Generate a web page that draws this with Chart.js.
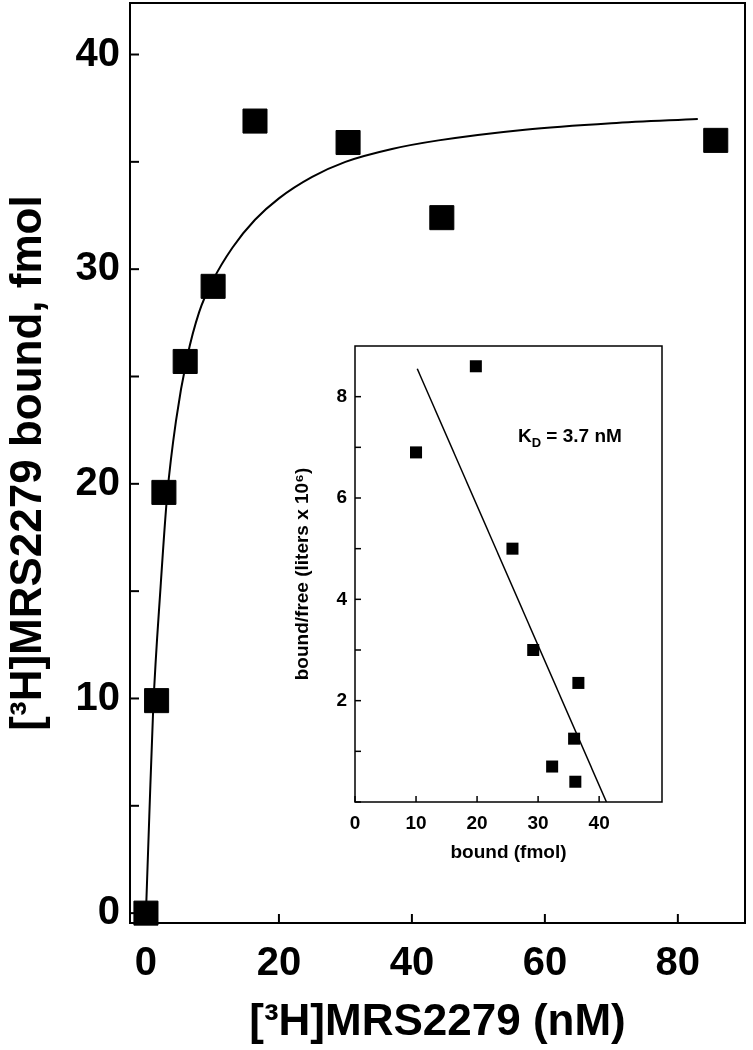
<!DOCTYPE html>
<html>
<head>
<meta charset="utf-8">
<script src="https://cdn.jsdelivr.net/npm/chart.js@4/dist/chart.umd.min.js"></script>
<style>
  html, body { margin: 0; padding: 0; background: #fff; }
  #wrap { position: relative; width: 753px; height: 1050px; }
  #wrap canvas { position: absolute; left: 0; top: 0; }
</style>
</head>
<body>
<div id="wrap">
  <canvas id="mainChart" width="753" height="1050"></canvas>
  <canvas id="insetChart" width="753" height="1050"></canvas>
</div>
<script>
// saturation data (main plot)
var satConc  = [0, 1.6, 2.7, 5.9, 10.1, 16.4, 30.4, 44.5, 85.7];
var satBound = [0, 9.9, 19.6, 25.7, 29.2, 36.9, 35.9, 32.4, 36.0];

// fitted curve
var fitConc  = [0, 0.5, 1.1, 2.2, 3.2, 4.5, 6.2, 8.0, 10.1, 13.0, 16.4, 20.0, 25.0, 30.0, 37.0, 44.0, 57.0, 70.0, 83.0];
var fitBound = [0, 4.5, 9.6, 15.2, 19.5, 22.9, 25.9, 28.0, 29.5, 31.0, 32.3, 33.3, 34.3, 35.0, 35.6, 36.0, 36.5, 36.8, 37.0];

// scatchard inset
var scatBound = [10.0, 19.8, 25.8, 29.2, 36.6, 35.9, 32.3, 36.1];
var scatRatio = [6.9, 8.6, 5.0, 3.0, 2.35, 1.25, 0.7, 0.4];
var scatFitBound = [10.2, 41.2];
var scatFitRatio = [8.55, 0];

var mainXTicks = [0, 20, 40, 60, 80];
var mainYTicks = [0, 5, 10, 15, 20, 25, 30, 35, 40];
var insetXTicks = [0, 10, 20, 30, 40];
var insetYTicks = [0, 1, 2, 3, 4, 5, 6, 7, 8];

var FONT = "'Liberation Sans', Arial, sans-serif";

function pts(xs, ys) {
    return xs.map(function (x, i) { return { x: x, y: ys[i] }; });
}

// box around the plot area + ticks pointing inward
var frameTicks = {
    id: 'frameTicks',
    beforeDatasetsDraw: function (chart, args, opts) {
        var ctx = chart.ctx, a = chart.chartArea, sx = chart.scales.x, sy = chart.scales.y;
        ctx.save();
        ctx.strokeStyle = '#000';
        ctx.lineWidth = opts.width;
        ctx.strokeRect(a.left, a.top, a.right - a.left, a.bottom - a.top);
        sx.ticks.forEach(function (t) {
            var px = sx.getPixelForValue(t.value);
            ctx.beginPath();
            ctx.moveTo(px, a.bottom);
            ctx.lineTo(px, a.bottom - opts.len);
            ctx.stroke();
        });
        sy.ticks.forEach(function (t) {
            var py = sy.getPixelForValue(t.value);
            ctx.beginPath();
            ctx.moveTo(a.left, py);
            ctx.lineTo(a.left + opts.len, py);
            ctx.stroke();
        });
        ctx.restore();
    }
};

// K_D label in the inset
var kdLabel = {
    id: 'kdLabel',
    afterDraw: function (chart, args, opts) {
        if (!opts.show) return;
        var ctx = chart.ctx;
        var x = chart.scales.x.getPixelForValue(opts.x);
        var y = chart.scales.y.getPixelForValue(opts.y);
        ctx.save();
        ctx.fillStyle = '#000';
        ctx.textBaseline = 'alphabetic';
        ctx.font = 'bold 19px ' + FONT;
        ctx.fillText('K', x, y);
        x += ctx.measureText('K').width;
        ctx.font = 'bold 13px ' + FONT;
        ctx.fillText('D', x, y + 5);
        x += ctx.measureText('D').width;
        ctx.font = 'bold 19px ' + FONT;
        ctx.fillText(' = 3.7 nM', x, y);
        ctx.restore();
    }
};

var mainCtx = document.getElementById('mainChart').getContext('2d');
var mainChart = new Chart(mainCtx, {
    type: 'scatter',
    data: {
        datasets: [{
            data: pts(fitConc, fitBound),
            showLine: true,
            pointRadius: 0,
            borderColor: '#000',
            borderWidth: 2,
            cubicInterpolationMode: 'monotone',
            clip: false
        }, {
            data: pts(satConc, satBound),
            pointStyle: 'rect',
            pointRadius: 17,
            backgroundColor: '#000',
            borderColor: '#000',
            borderWidth: 1,
            clip: false
        }]
    },
    options: {
        responsive: false,
        animation: false,
        layout: {
            autoPadding: false,
            padding: { top: 3, right: 8, left: 0, bottom: 0 }
        },
        plugins: {
            legend: { display: false },
            tooltip: { enabled: false },
            frameTicks: { len: 9, width: 2 },
            kdLabel: { show: false }
        },
        scales: {
            x: {
                type: 'linear',
                min: -2.4,
                max: 90.1,
                afterFit: function (s) { s.height = 127; s.paddingLeft = 0; s.paddingRight = 0; },
                afterBuildTicks: function (s) { s.ticks = mainXTicks.map(function (v) { return { value: v }; }); },
                grid: { display: false, drawTicks: false },
                border: { display: false },
                ticks: {
                    padding: 17,
                    color: '#000',
                    maxRotation: 0,
                    autoSkip: false,
                    font: { family: FONT, size: 40, weight: 'bold' }
                },
                title: {
                    display: true,
                    text: '[³H]MRS2279 (nM)',
                    color: '#000',
                    font: { family: FONT, size: 44, weight: 'bold' },
                    padding: { top: 0, bottom: 1 }
                }
            },
            y: {
                type: 'linear',
                min: -0.46,
                max: 42.4,
                afterFit: function (s) { s.width = 130; s.paddingTop = 0; s.paddingBottom = 0; },
                afterBuildTicks: function (s) { s.ticks = mainYTicks.map(function (v) { return { value: v }; }); },
                grid: { display: false, drawTicks: false },
                border: { display: false },
                ticks: {
                    padding: 10,
                    color: '#000',
                    autoSkip: false,
                    font: { family: FONT, size: 40, weight: 'bold' },
                    callback: function (v) { return v % 10 === 0 ? v : ''; }
                },
                title: {
                    display: true,
                    text: '[³H]MRS2279 bound, fmol',
                    color: '#000',
                    font: { family: FONT, size: 44, weight: 'bold' },
                    padding: { top: 2, bottom: 0 }
                }
            }
        }
    },
    plugins: [frameTicks, kdLabel]
});

var insetCtx = document.getElementById('insetChart').getContext('2d');
var insetChart = new Chart(insetCtx, {
    type: 'scatter',
    data: {
        datasets: [{
            data: pts(scatFitBound, scatFitRatio),
            showLine: true,
            pointRadius: 0,
            borderColor: '#000',
            borderWidth: 1.5
        }, {
            data: pts(scatBound, scatRatio),
            pointStyle: 'rect',
            pointRadius: 8.5,
            backgroundColor: '#000',
            borderColor: '#000',
            borderWidth: 0,
            clip: false
        }]
    },
    options: {
        responsive: false,
        animation: false,
        layout: {
            autoPadding: false,
            padding: { top: 346, right: 91, left: 291, bottom: 168 }
        },
        plugins: {
            legend: { display: false },
            tooltip: { enabled: false },
            frameTicks: { len: 6, width: 1.5 },
            kdLabel: { show: true, x: 26.7, y: 7.1 }
        },
        scales: {
            x: {
                type: 'linear',
                min: 0,
                max: 50.3,
                afterFit: function (s) { s.height = 80; },
                afterBuildTicks: function (s) { s.ticks = insetXTicks.map(function (v) { return { value: v }; }); },
                grid: { display: false, drawTicks: false },
                border: { display: false },
                ticks: {
                    padding: 10,
                    color: '#000',
                    maxRotation: 0,
                    autoSkip: false,
                    font: { family: FONT, size: 19, weight: 'bold' }
                },
                title: {
                    display: true,
                    text: 'bound (fmol)',
                    color: '#000',
                    font: { family: FONT, size: 19, weight: 'bold' },
                    padding: { top: 0, bottom: 18 }
                }
            },
            y: {
                type: 'linear',
                min: 0,
                max: 9.0,
                afterFit: function (s) { s.width = 64; },
                afterBuildTicks: function (s) { s.ticks = insetYTicks.map(function (v) { return { value: v }; }); },
                grid: { display: false, drawTicks: false },
                border: { display: false },
                ticks: {
                    padding: 8,
                    color: '#000',
                    autoSkip: false,
                    font: { family: FONT, size: 19, weight: 'bold' },
                    callback: function (v) { return (v > 0 && v % 2 === 0) ? v : ''; }
                },
                title: {
                    display: true,
                    text: 'bound/free (liters x 10⁶)',
                    color: '#000',
                    font: { family: FONT, size: 19, weight: 'bold' },
                    padding: { top: 0, bottom: 0 }
                }
            }
        }
    },
    plugins: [frameTicks, kdLabel]
});
</script>
</body>
</html>
